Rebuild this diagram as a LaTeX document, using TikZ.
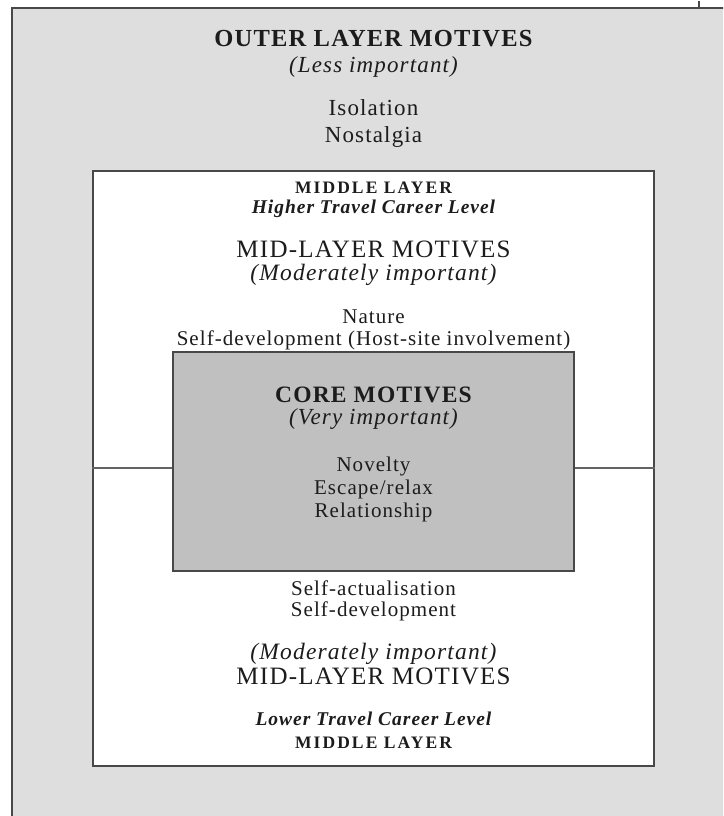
\documentclass[tikz,border=0pt]{standalone}
\usepackage{fontspec}
\setmainfont{Liberation Serif}[LetterSpace=5]
\definecolor{outerfill}{RGB}{222,222,222}
\definecolor{corefill}{RGB}{192,192,192}
\definecolor{edge}{RGB}{72,72,72}
\definecolor{ink}{RGB}{28,28,28}
\begin{document}
\begin{tikzpicture}[x=1pt,y=-1pt,
  lbl/.style={anchor=base, inner sep=0pt, text=ink},
  frame/.style={draw=edge, line width=1.6pt},
  divider/.style={draw=edge!85, line width=1.2pt},
  outerhead/.style={lbl, font={\fontsize{24.5}{28}\selectfont\bfseries}},
  outeritalic/.style={lbl, font={\fontsize{23}{27}\selectfont\itshape}},
  outerbody/.style={lbl, font={\fontsize{23}{27}\selectfont}},
  layerhead/.style={lbl, font={\fontsize{17.5}{21}\selectfont\bfseries\addfontfeatures{LetterSpace=12}}},
  careerlevel/.style={lbl, font={\fontsize{19.5}{22}\selectfont\bfseries\itshape}},
  midhead/.style={lbl, font={\fontsize{25}{29}\selectfont}},
  miditalic/.style={lbl, font={\fontsize{23.5}{27}\selectfont\itshape}},
  body/.style={lbl, font={\fontsize{21}{24}\selectfont}},
  corehead/.style={lbl, font={\fontsize{23.5}{27}\selectfont\bfseries}},
  coreitalic/.style={lbl, font={\fontsize{23}{27}\selectfont\itshape}}]
\useasboundingbox (0,0) rectangle (723,816);
\begin{scope}
  \clip (0,0) rectangle (723,816);
  \draw[frame, fill=outerfill] (12,8) rectangle (740,830);
\end{scope}
\draw[edge, line width=1.2pt] (699,1) -- (699,8);

% outer layer texts
\node[outerhead] (outertitle) at (373.5,47) {OUTER LAYER MOTIVES};
\node[outeritalic] (outerimp) at (373.5,72) {(Less important)};
\node[outerbody] (isolation) at (373.5,115) {Isolation};
\node[outerbody] (nostalgia) at (373.5,142) {Nostalgia};

% middle layer box
\node[frame, fill=white, minimum width=561pt, minimum height=595pt, inner sep=0pt] (mid) at (373.5,468.5) {};
\coordinate (dl) at (93,468);
\coordinate (dr) at (654,468);

% core box
\node[frame, fill=corefill, minimum width=401pt, minimum height=219pt, inner sep=0pt] (core) at (373.5,461.5) {};
\draw[divider] (mid.west |- dl) -- (core.west |- dl);
\draw[divider] (core.east |- dr) -- (mid.east |- dr);

% upper middle layer texts
\node[layerhead] (midtop) at (373.5,193) {MIDDLE LAYER};
\node[careerlevel] (higher) at (373.5,213) {Higher Travel Career Level};
\node[midhead] (midmotA) at (373.5,257) {MID-LAYER MOTIVES};
\node[miditalic] (modA) at (373.5,280) {(Moderately important)};
\node[body] (nature) at (373.5,323) {Nature};
\node[body] (hostsite) at (373.5,345) {Self-development (Host-site involvement)};

% core texts
\node[corehead] (coretitle) at (373.5,402) {CORE MOTIVES};
\node[coreitalic] (veryimp) at (373.5,424) {(Very important)};
\node[body] (novelty) at (373.5,471) {Novelty};
\node[body] (escape) at (373.5,494) {Escape/relax};
\node[body] (relation) at (373.5,517) {Relationship};

% lower middle layer texts
\node[body] (selfact) at (373.5,595) {Self-actualisation};
\node[body] (selfdev) at (373.5,616) {Self-development};
\node[miditalic] (modB) at (373.5,659) {(Moderately important)};
\node[midhead] (midmotB) at (373.5,684) {MID-LAYER MOTIVES};
\node[careerlevel] (lower) at (373.5,725) {Lower Travel Career Level};
\node[layerhead] (midbot) at (373.5,748) {MIDDLE LAYER};
\end{tikzpicture}
\end{document}
